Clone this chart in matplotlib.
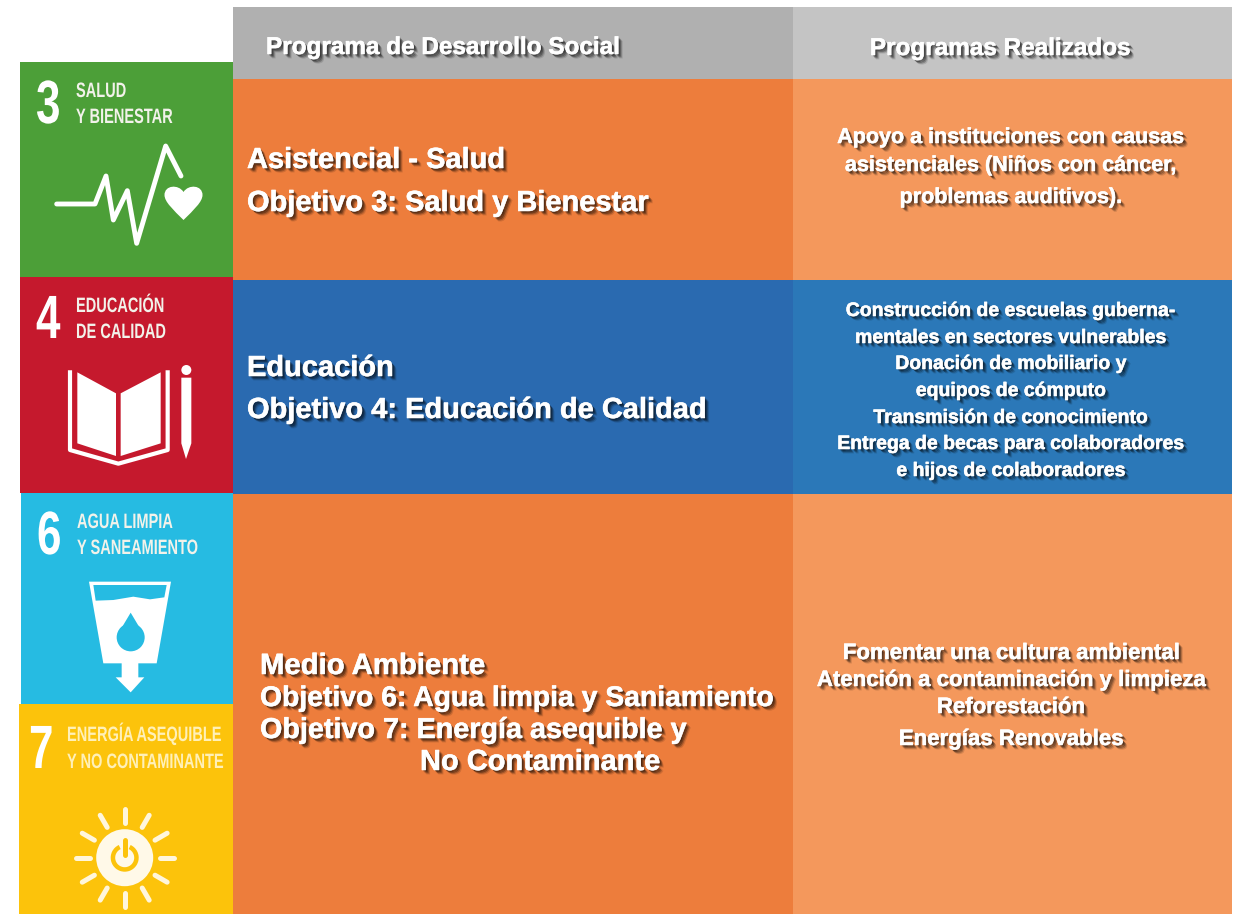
import numpy as np
import matplotlib
matplotlib.use("Agg")
import matplotlib.pyplot as plt
import matplotlib.patheffects as pe
from matplotlib.patches import Rectangle, Polygon, Circle, PathPatch, Wedge
from matplotlib.path import Path
from matplotlib.transforms import Affine2D

# Text content
headers = ["Programa de Desarrollo Social", "Programas Realizados"]
main_salud = ["Asistencial - Salud", "Objetivo 3: Salud y Bienestar"]
main_educ = ["Educación", "Objetivo 4: Educación de Calidad"]
main_amb = ["Medio Ambiente", "Objetivo 6: Agua limpia y Saniamiento",
            "Objetivo 7: Energía asequible y", "No Contaminante"]
prog_salud = ["Apoyo a instituciones con causas", "asistenciales (Niños con cáncer,",
              "problemas auditivos)."]
prog_educ = ["Construcción de escuelas guberna-", "mentales en sectores vulnerables",
             "Donación de mobiliario y", "equipos de cómputo",
             "Transmisión de conocimiento", "Entrega de becas para colaboradores",
             "e hijos de colaboradores"]
prog_amb = ["Fomentar una cultura ambiental", "Atención a contaminación y limpieza",
            "Reforestación", "Energías Renovables"]
ods_num = ["3", "4", "6", "7"]
ods_lines = [["SALUD", "Y BIENESTAR"], ["EDUCACIÓN", "DE CALIDAD"],
             ["AGUA LIMPIA", "Y SANEAMIENTO"], ["ENERGÍA ASEQUIBLE", "Y NO CONTAMINANTE"]]

GREEN, RED, CYAN, YELLOW = "#4C9F38", "#C5192D", "#26BBE2", "#FCC30B"
ORANGE, ORANGE_L = "#ED7D3C", "#F4985C"
BLUE, BLUE_L = "#2A6AB0", "#2B78B8"
FONT = ["Liberation Sans"]

fig = plt.figure(figsize=(12.39, 9.14), dpi=100)
ax = fig.add_axes([0, 0, 1, 1])
ax.set_xlim(0, 1239)
ax.set_ylim(914, 0)
ax.axis("off")


class Squeeze(pe.AbstractPathEffect):
    # no condensed font installed, so narrow the glyphs about the text anchor
    def __init__(self, x0, sx):
        super().__init__()
        self.x0 = x0
        self.sx = sx

    def draw_path(self, renderer, gc, tpath, affine, rgbFace=None):
        squeeze = Affine2D().translate(-self.x0, 0).scale(self.sx, 1).translate(self.x0, 0)
        renderer.draw_path(gc, tpath, affine + squeeze, rgbFace)


def narrow(x, y, s, size, sx, color="white"):
    x0 = ax.transData.transform((x, 0))[0]
    ax.text(x, y, s, color=color, fontsize=size, family=FONT, weight="bold",
            va="baseline", path_effects=[Squeeze(x0, sx)], zorder=4)


def box(x0, y0, x1, y1, color, z=1):
    ax.add_patch(Rectangle((x0, y0), x1 - x0, y1 - y0, fc=color, ec="none", zorder=z))


def label(x, y, s, size, ha="left"):
    # stacked soft shadows stand in for the blurred drop shadow
    fx = [pe.SimplePatchShadow(offset=(o, -o), shadow_rgbFace="k", alpha=a)
          for o, a in [(3.2, 0.12), (2.5, 0.22), (1.8, 0.3), (1.0, 0.3)]]
    fx.append(pe.withStroke(linewidth=0.4, foreground="white"))
    ax.text(x, y, s, color="white", fontsize=size, family=FONT, weight="bold",
            ha=ha, va="baseline", path_effects=fx, zorder=5)


# table blocks
box(233, 7, 793, 79, "#B0B0B0")
box(793, 7, 1232, 79, "#C4C4C4")
box(233, 79, 793, 280, ORANGE)
box(793, 79, 1232, 280, ORANGE_L)
box(233, 280, 793, 494, BLUE)
box(793, 280, 1232, 494, BLUE_L)
box(233, 494, 793, 914, ORANGE)
box(793, 494, 1232, 914, ORANGE_L)

# goal tiles
box(20, 62, 233, 277, GREEN, 2)
box(20, 277, 233, 493, RED, 2)
box(21, 493, 233, 704, CYAN, 2)
box(19, 704, 233, 914, YELLOW, 2)

# tile captions
num_xy = [(36, 123), (36, 338), (37, 554), (29, 768)]
cap_x = [76, 76, 77, 67]
cap_y = [[97, 123], [312, 338], [528, 554], [741, 768]]
for i in range(4):
    narrow(num_xy[i][0], num_xy[i][1], ods_num[i], 44, 0.72)
    for j in range(2):
        narrow(cap_x[i], cap_y[i][j], ods_lines[i][j], 15, 0.70,
               color="#F2F2EA" if i < 3 else "#FFF0B8")

# heartbeat + heart
beat = np.array([[170, 462], [285, 462], [318, 378], [340, 510], [382, 422],
                 [410, 580], [497, 288], [543, 378]]) / 3.0 + [0, 50]
ax.plot(beat[:, 0], beat[:, 1], color="white", lw=3.5, solid_joinstyle="round",
        solid_capstyle="round", zorder=4)
hx, hy = 183.5, 204
heart = [(0, 16), (-10, 6), (-19, -2), (-19, -9), (-19, -19), (-5, -20), (0, -12),
         (5, -20), (19, -19), (19, -9), (19, -2), (10, 6), (0, 16)]
heart_codes = [Path.MOVETO] + [Path.CURVE4] * 12
heart = [(hx + a, hy + b) for a, b in heart]
ax.add_patch(PathPatch(Path(heart, heart_codes), fc="white", ec="none", zorder=4))

# book + pencil
conv = lambda pts: np.array(pts) / 3.0 + [0, 275]
ax.add_patch(Polygon(conv([(232, 292), (348, 355), (348, 543), (232, 505)]), fc="white", ec="none", zorder=4))
ax.add_patch(Polygon(conv([(362, 355), (482, 292), (482, 505), (362, 543)]), fc="white", ec="none", zorder=4))
cover = conv([(210, 292), (210, 525), (355, 566), (503, 525), (503, 292)])
ax.plot(cover[:, 0], cover[:, 1], color="white", lw=3.0, zorder=4)
ax.add_patch(Polygon(conv([(544, 308), (574, 308), (574, 505), (558, 552), (544, 505)]), fc="white", ec="none", zorder=4))
ax.add_patch(Circle(conv([(559, 285)])[0], 5, fc="white", ec="none", zorder=4))

# glass of water
conv = lambda pts: np.array(pts) / 3.0 + [0, 490]
ax.add_patch(Polygon(conv([(267, 275), (513, 275), (470, 520), (310, 520)]), fc="white", ec="none", zorder=4))
ax.add_patch(Polygon(conv([(280, 285), (500, 285), (493, 322), (450, 328), (400, 320), (340, 330), (287, 332)]),
                     fc=CYAN, ec="none", zorder=5))
ax.add_patch(Circle(conv([(392, 442)])[0], 14, fc=CYAN, ec="none", zorder=5))
ax.add_patch(Polygon(conv([(392, 368), (358, 425), (426, 425)]), fc=CYAN, ec="none", zorder=5))
ax.add_patch(Polygon(conv([(365, 515), (415, 515), (415, 562), (433, 562), (392, 607), (347, 562), (365, 562)]),
                     fc="white", ec="none", zorder=4))

# sun with power symbol
cx, cy = 124.7, 857.7
for ang in np.deg2rad(np.arange(0, 360, 30)):
    ax.plot([cx + 35 * np.cos(ang), cx + 49 * np.cos(ang)],
            [cy + 35 * np.sin(ang), cy + 49 * np.sin(ang)],
            color="#FFF6DC", lw=3.6, solid_capstyle="round", zorder=4)
ax.add_patch(Circle((cx, cy), 28.5, fc="#FFF9E8", ec="none", zorder=4))
ax.add_patch(Wedge((cx, cy), 14, -65, 245, width=4.5, fc=YELLOW, ec="none", zorder=5))
ax.plot([cx, cx], [cy - 18, cy - 3], color=YELLOW, lw=3.6, solid_capstyle="round", zorder=5)

# headers
label(266, 54, headers[0], 17.5)
label(1000, 55, headers[1], 17.5, ha="center")

# middle column
for s, x, y in zip(main_salud, [247, 247], [168, 211]):
    label(x, y, s, 20.9)
for s, x, y in zip(main_educ, [247, 247], [376, 418]):
    label(x, y, s, 20.9)
for s, x, y, size in zip(main_amb, [260, 260, 260, 420], [674, 706, 738, 770], [21.1, 20.4, 20.7, 20.9]):
    label(x, y, s, size)

# right column
for s, y in zip(prog_salud, [143, 171, 203]):
    label(1011, y, s, 15.5, ha="center")
for s, y in zip(prog_educ, [316, 343, 369, 396, 423, 449, 476]):
    label(1011, y, s, 14, ha="center")
for s, y in zip(prog_amb, [659, 686, 713, 745]):
    label(1011, y, s, 16, ha="center")

fig.savefig("out.png", dpi=100, facecolor="white")
